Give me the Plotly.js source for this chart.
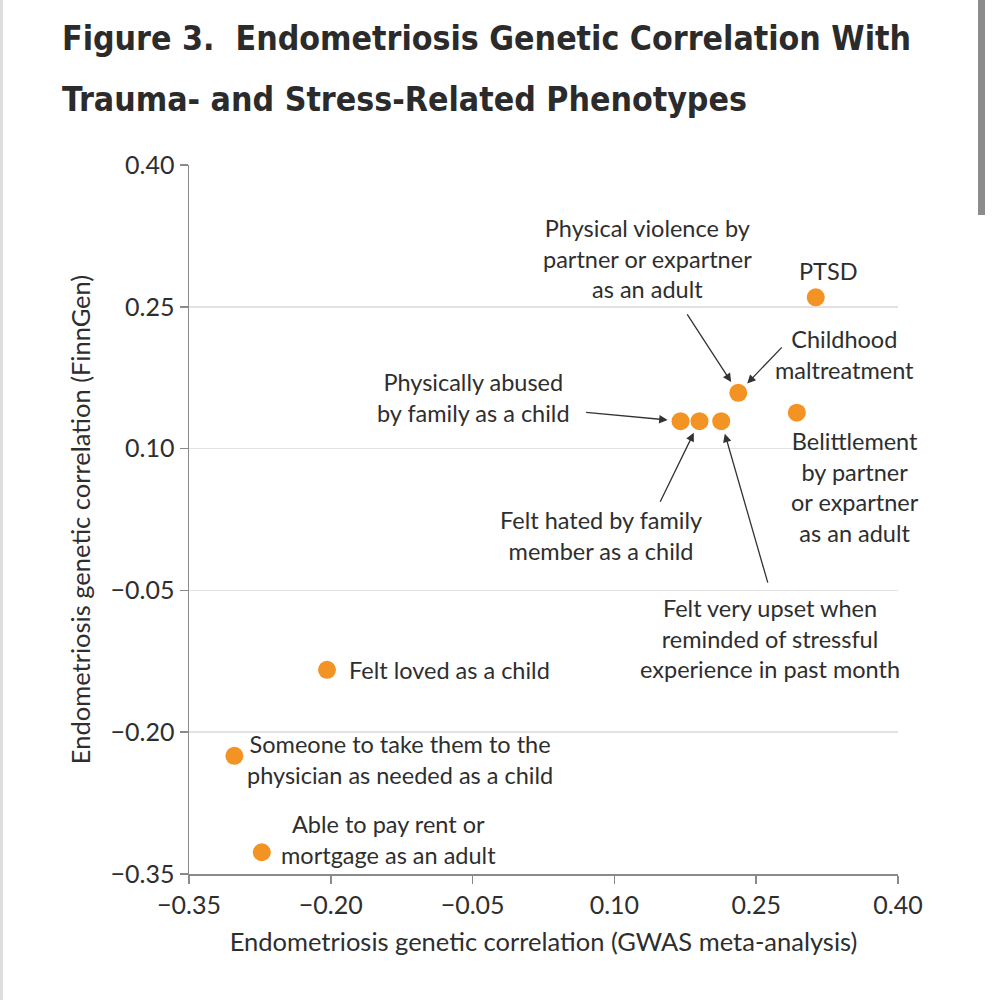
<!DOCTYPE html>
<html>
<head>
<meta charset="utf-8">
<script src="https://cdn.plot.ly/plotly-3.0.1.min.js"></script>
<style>html,body{margin:0;padding:0;background:#fff;}#chart{width:993px;height:1000px;}</style>
</head>
<body>
<div id="chart"></div>
<script>
// Data
const phenotypes = [
  "PTSD",
  "Childhood maltreatment / Physical violence by partner or expartner as an adult",
  "Belittlement by partner or expartner as an adult",
  "Physically abused by family as a child",
  "Felt hated by family member as a child",
  "Felt very upset when reminded of stressful experience in past month",
  "Felt loved as a child",
  "Someone to take them to the physician as needed as a child",
  "Able to pay rent or mortgage as an adult"
];
const gwasCorr    = [0.313, 0.231, 0.293, 0.170, 0.190, 0.213, -0.204, -0.302, -0.273];
const finngenCorr = [0.260, 0.159, 0.138, 0.129, 0.129, 0.129, -0.134, -0.225, -0.327];
const tickVals = [-0.35, -0.20, -0.05, 0.10, 0.25, 0.40];

const fam = "Lato, 'Noto Sans', sans-serif";
const textFont = {family: fam, size: 23.5, color: "#2e2e2e"};
const arrowColor = "#333333";
const titleFont = {family: "'DejaVu Sans Condensed', 'DejaVu Sans', sans-serif", size: 33.6, color: "#2b2b2b"};

function label(text, x, y, align, xanchor) {
  return {text: text, x: x, y: y, xref: "x", yref: "y", showarrow: false,
          align: align || "center", xanchor: xanchor || "center", yanchor: "middle", font: textFont};
}
function arrow(i, ax, ay) {
  return {text: "", x: gwasCorr[i], y: finngenCorr[i], xref: "x", yref: "y",
          showarrow: true, ax: ax, ay: ay, arrowhead: 2, arrowsize: 1.3, arrowwidth: 1.3,
          arrowcolor: arrowColor, standoff: 13};
}

const annotations = [
  label("Physical violence by<br>partner or expartner<br>as an adult", 0.135, 0.301),
  label("PTSD", 0.327, 0.288),
  label("Childhood<br>maltreatment", 0.343, 0.200),
  label("Physically abused<br>by family as a child", -0.049, 0.154),
  label("Belittlement<br>by partner<br>or expartner<br>as an adult", 0.354, 0.059),
  label("Felt hated by family<br>member as a child", 0.086, 0.008),
  label("Felt very upset when<br>reminded of stressful<br>experience in past month", 0.265, -0.101),
  label("Felt loved as a child", -0.183, -0.134, "left", "left"),
  label("Someone to take them to the<br>physician as needed as a child", -0.127, -0.229),
  label("Able to pay rent or<br>mortgage as an adult", -0.139, -0.314),
  arrow(1, -52, -80),
  arrow(1, 45, -47),
  arrow(3, -96, -9),
  arrow(4, -40, 82),
  arrow(5, 47, 163),
  {text: "<b>Figure 3.  Endometriosis Genetic Correlation With</b>", xref: "paper", yref: "paper",
   x: -0.182, y: 1.179, xanchor: "left", yanchor: "middle", showarrow: false, font: titleFont},
  {text: "<b>Trauma- and Stress-Related Phenotypes</b>", xref: "paper", yref: "paper",
   x: -0.182, y: 1.092, xanchor: "left", yanchor: "middle", showarrow: false, font: titleFont}
];

const trace = {
  type: "scatter", mode: "markers",
  x: gwasCorr, y: finngenCorr, text: phenotypes, hoverinfo: "text",
  marker: {color: "#F39323", size: 18, line: {width: 0}}
};

const layout = {
  width: 993, height: 1000,
  margin: {l: 189, r: 95, t: 165, b: 126},
  paper_bgcolor: "#ffffff", plot_bgcolor: "#ffffff",
  showlegend: false,
  font: textFont,
  xaxis: {
    range: [-0.35, 0.40], tickvals: tickVals, tickformat: ".2f",
    showgrid: false, zeroline: false, showline: true, linecolor: "#8a8a8a", linewidth: 1.5,
    ticks: "outside", ticklen: 8, tickcolor: "#8a8a8a", tickwidth: 1.5,
    tickfont: {family: fam, size: 25, color: "#2e2e2e"},
    title: {text: "Endometriosis genetic correlation (GWAS meta-analysis)", standoff: 15,
            font: {family: fam, size: 25.5, color: "#2e2e2e"}}
  },
  yaxis: {
    range: [-0.35, 0.40], tickvals: tickVals, tickformat: ".2f",
    showgrid: true, gridcolor: "#e2e2e2", gridwidth: 1.5, zeroline: false,
    showline: true, linecolor: "#8a8a8a", linewidth: 1.5,
    ticks: "outside", ticklen: 8, tickcolor: "#8a8a8a", tickwidth: 1.5,
    tickfont: {family: fam, size: 25, color: "#2e2e2e"},
    title: {text: "Endometriosis genetic correlation (FinnGen)", standoff: 12,
            font: {family: fam, size: 25.5, color: "#2e2e2e"}}
  },
  annotations: annotations,
  shapes: [
    {type: "rect", xref: "paper", yref: "paper", x0: (978 - 189) / 709, x1: (985 - 189) / 709,
     y0: (874 - 215) / 709, y1: 874 / 709, fillcolor: "#8c8c8c", line: {width: 0}},
    {type: "rect", xref: "paper", yref: "paper", x0: -189 / 709, x1: (3 - 189) / 709,
     y0: -126 / 709, y1: 874 / 709, fillcolor: "#dddddd", line: {width: 0}}
  ]
};

Plotly.newPlot("chart", [trace], layout, {displayModeBar: false, staticPlot: true});
</script>
</body>
</html>
